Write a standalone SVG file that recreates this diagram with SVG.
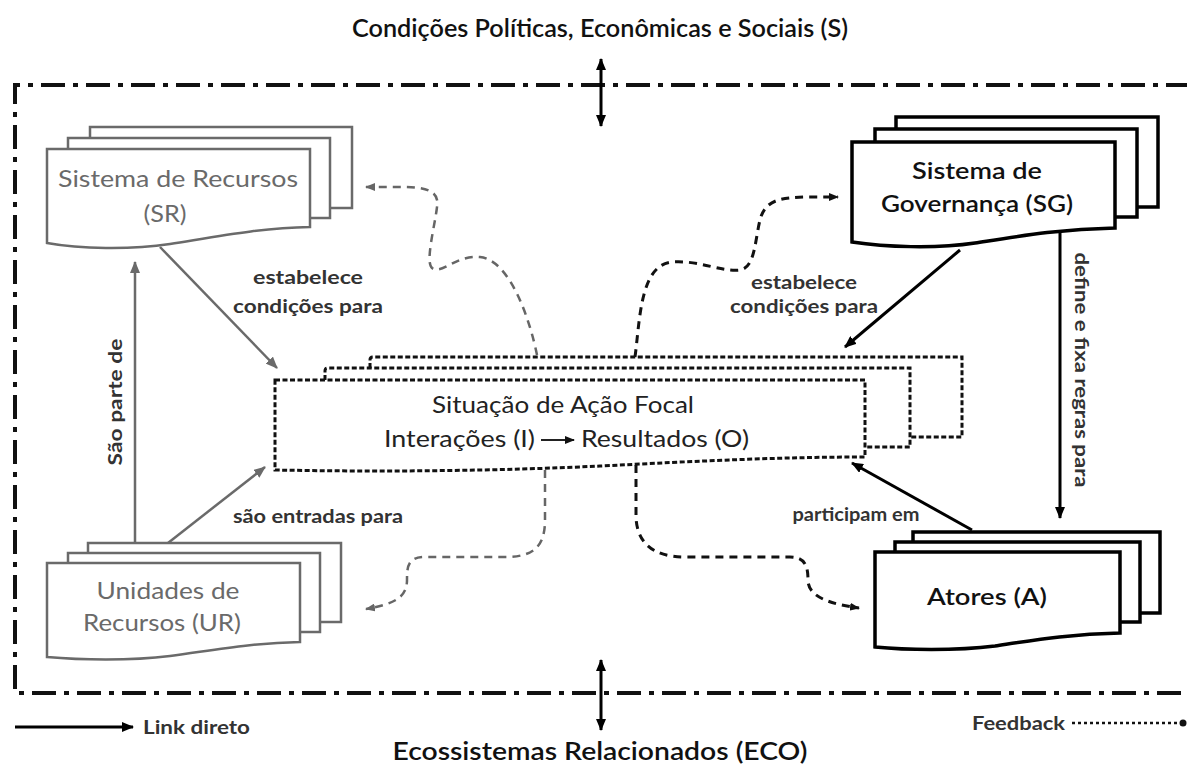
<svg xmlns="http://www.w3.org/2000/svg" width="1187" height="768" viewBox="0 0 1187 768">
<defs>
<style>
text{font-family:Lato,"Liberation Sans",sans-serif;}
.t{font-size:24px;}
.lbl{font-size:19.5px;font-weight:700;fill:#333;}
.gtxt{fill:#6a6a6a;font-size:24px;}
.btxt{fill:#111;font-size:23.5px;font-weight:600;}
.gpage{fill:#fff;stroke:#6a6a6a;stroke-width:2.5;}
.bpage{fill:#fff;stroke:#000;stroke-width:3.5;}
.fpage{fill:none;stroke:#111;stroke-width:3;stroke-dasharray:5 2.5;}
.gline{fill:none;stroke:#6a6a6a;stroke-width:2.5;}
.bline{fill:none;stroke:#000;stroke-width:3;}
.gfb{fill:none;stroke:#666;stroke-width:2.5;stroke-dasharray:8 6;}
.bfb{fill:none;stroke:#111;stroke-width:3;stroke-dasharray:8 6;}
.border{fill:none;stroke:#111;stroke-width:4;stroke-dasharray:24 8 5 8;}
</style>
<marker id="ab" viewBox="0 0 12 10" refX="11" refY="5" markerWidth="12" markerHeight="10" markerUnits="userSpaceOnUse" orient="auto-start-reverse"><path d="M0,0 L12,5 L0,10 z" fill="#000"/></marker>
<marker id="ag" viewBox="0 0 12 10" refX="11" refY="5" markerWidth="12" markerHeight="10" markerUnits="userSpaceOnUse" orient="auto"><path d="M0,0 L12,5 L0,10 z" fill="#6a6a6a"/></marker>
<marker id="fb" viewBox="0 0 10 8" refX="9" refY="4" markerWidth="10" markerHeight="8" markerUnits="userSpaceOnUse" orient="auto"><path d="M0,0 L10,4 L0,8 z" fill="#111"/></marker>
<marker id="fg" viewBox="0 0 10 8" refX="9" refY="4" markerWidth="10" markerHeight="8" markerUnits="userSpaceOnUse" orient="auto"><path d="M0,0 L10,4 L0,8 z" fill="#666"/></marker>
</defs>
<rect width="1187" height="768" fill="#fff"/>

<g id="frame">
<path class="border" d="M1190,85 L15,85 L15,693 L1190,693"/>
<text class="t" x="600" y="37" text-anchor="middle" textLength="496" lengthAdjust="spacingAndGlyphs" fill="#111" font-weight="600">Condições Políticas, Econômicas e Sociais (S)</text>
<text class="t" x="600" y="760" text-anchor="middle" textLength="415" lengthAdjust="spacingAndGlyphs" fill="#111" font-weight="600">Ecossistemas Relacionados (ECO)</text>
</g>

<g id="connectors">
<line class="bline" x1="601" y1="59" x2="601" y2="126" stroke-width="2.5" marker-start="url(#ab)" marker-end="url(#ab)"/>
<line class="bline" x1="601" y1="660" x2="601" y2="730" stroke-width="2.5" marker-start="url(#ab)" marker-end="url(#ab)"/>
<line class="gline" x1="160" y1="247" x2="277" y2="368" marker-end="url(#ag)"/>
<line class="gline" x1="135" y1="543" x2="135" y2="262" marker-end="url(#ag)"/>
<line class="gline" x1="168" y1="543" x2="265" y2="467" marker-end="url(#ag)"/>
<line class="bline" x1="960" y1="250" x2="845" y2="347" marker-end="url(#ab)"/>
<line class="bline" x1="1060" y1="230" x2="1060" y2="518" marker-end="url(#ab)"/>
<line class="bline" x1="972" y1="530" x2="852" y2="463" marker-end="url(#ab)"/>
<path class="gfb" d="M537,355 C530,320 510,260 480,257 C455,255 442,275 432,268 C425,262 435,225 437,207 C440,190 425,187 400,187 L366,187" marker-end="url(#fg)"/>
<path class="bfb" d="M635,357 C640,320 640,265 672,262 C700,260 720,272 740,270 C755,268 755,240 760,220 C765,200 780,197 810,197 L838,197" marker-end="url(#fb)"/>
<path class="gfb" d="M545,470 L545,520 C545,545 535,557 505,557 L425,557 C408,557 407,566 407,580 C407,597 395,604 366,609" marker-end="url(#fg)"/>
<path class="bfb" d="M636,465 L636,515 C636,540 650,557 685,557 L790,557 C805,557 808,566 808,580 C808,597 830,604 859,608" marker-end="url(#fb)"/>
<line class="bline" x1="15" y1="727" x2="133" y2="727" marker-end="url(#ab)"/>
<line x1="1072" y1="723" x2="1180" y2="723" stroke="#111" stroke-width="2.5" stroke-dasharray="3 3"/>
<circle cx="1183" cy="723" r="3.5" fill="#111"/>
</g>

<g id="SR">
<rect class="gpage" x="90" y="127" width="262" height="81"/>
<rect class="gpage" x="68" y="138" width="262" height="80"/>
<path class="gpage" d="M47,149 H310 V227 C260,228 220,236 170,244 C130,250 80,249 47,243 Z"/>
<text class="gtxt" x="178" y="187" text-anchor="middle" textLength="240" lengthAdjust="spacingAndGlyphs">Sistema de Recursos</text>
<text class="gtxt" x="165" y="222" text-anchor="middle" textLength="43" lengthAdjust="spacingAndGlyphs">(SR)</text>
</g>

<g id="SG">
<rect class="bpage" x="896" y="117" width="262" height="90"/>
<rect class="bpage" x="875" y="129" width="262" height="88"/>
<path class="bpage" d="M852,142 H1115 V228 C1060,229 1020,236 975,243 C935,249 885,247 852,242 Z"/>
<text class="btxt" x="977" y="179" text-anchor="middle" textLength="130" lengthAdjust="spacingAndGlyphs">Sistema de</text>
<text class="btxt" x="977" y="212" text-anchor="middle" textLength="192" lengthAdjust="spacingAndGlyphs">Governança (SG)</text>
</g>

<g id="UR">
<rect class="gpage" x="88" y="543" width="253" height="79"/>
<rect class="gpage" x="68" y="553" width="252" height="79"/>
<path class="gpage" d="M47,563 H300 V642 C250,643 215,650 170,656 C130,661 80,660 47,657 Z"/>
<text class="gtxt" x="168" y="599" text-anchor="middle" textLength="143" lengthAdjust="spacingAndGlyphs">Unidades de</text>
<text class="gtxt" x="162" y="631" text-anchor="middle" textLength="158" lengthAdjust="spacingAndGlyphs">Recursos (UR)</text>
</g>

<g id="A">
<rect class="bpage" x="913" y="532" width="247" height="81"/>
<rect class="bpage" x="895" y="542" width="245" height="80"/>
<path class="bpage" d="M875,552 H1120 V633 C1070,634 1035,640 995,646 C955,651 905,650 875,647 Z"/>
<text class="btxt" x="987" y="605" text-anchor="middle" textLength="120" lengthAdjust="spacingAndGlyphs">Atores (A)</text>
</g>

<g id="focal">
<path class="fpage" d="M370,368 V360 Q370,357 373,357 H962 V437 H910"/>
<path class="fpage" d="M325,380 V371 Q325,368 328,368 H910 V447 H865"/>
<path class="fpage" d="M275,380 H865 V457 C780,457 700,461 600,466 C500,471 380,472 275,470 Z" fill="#fff"/>
<text class="t" x="563" y="413" text-anchor="middle" textLength="262" lengthAdjust="spacingAndGlyphs" fill="#222">Situação de Ação Focal</text>
<text class="t" x="384" y="447" textLength="151" lengthAdjust="spacingAndGlyphs" fill="#222">Interações (I)</text>
<line x1="541" y1="440" x2="574" y2="440" stroke="#222" stroke-width="2" marker-end="url(#fb)"/>
<text class="t" x="581" y="447" textLength="168" lengthAdjust="spacingAndGlyphs" fill="#222">Resultados (O)</text>
</g>

<g id="labels">
<text class="lbl" x="308" y="284" text-anchor="middle" textLength="110" lengthAdjust="spacingAndGlyphs">estabelece</text>
<text class="lbl" x="308" y="313" text-anchor="middle" textLength="150" lengthAdjust="spacingAndGlyphs">condições para</text>
<text class="lbl" x="804" y="289" text-anchor="middle" textLength="106" lengthAdjust="spacingAndGlyphs">estabelece</text>
<text class="lbl" x="804" y="313" text-anchor="middle" textLength="148" lengthAdjust="spacingAndGlyphs">condições para</text>
<text class="lbl" transform="translate(122,402) rotate(-90)" text-anchor="middle" textLength="127" lengthAdjust="spacingAndGlyphs">São parte de</text>
<text class="lbl" x="318" y="523" text-anchor="middle" textLength="170" lengthAdjust="spacingAndGlyphs">são entradas para</text>
<text class="lbl" transform="translate(1075,370) rotate(90)" text-anchor="middle" textLength="235" lengthAdjust="spacingAndGlyphs">define e fixa regras para</text>
<text class="lbl" x="856" y="521" text-anchor="middle" textLength="127" lengthAdjust="spacingAndGlyphs">participam em</text>
<text class="lbl" x="143" y="734" textLength="107" lengthAdjust="spacingAndGlyphs">Link direto</text>
<text class="lbl" x="972" y="730" textLength="93" lengthAdjust="spacingAndGlyphs">Feedback</text>
</g>
</svg>
